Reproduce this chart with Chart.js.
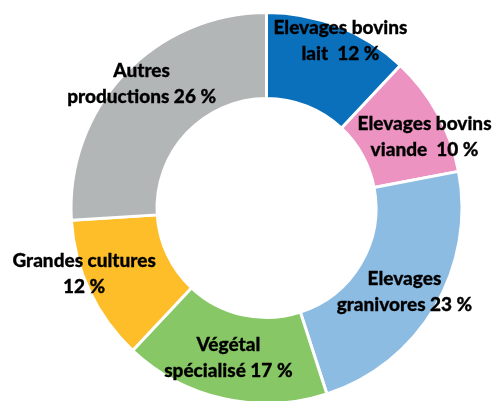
<!DOCTYPE html>
<html><head><meta charset="utf-8">
<script src="https://cdn.jsdelivr.net/npm/chart.js@4/dist/chart.umd.min.js"></script>
<style>html,body{margin:0;padding:0;background:#fff;overflow:hidden}#w{width:492px;height:405px}</style>
</head><body><div id="w"><canvas id="c"></canvas></div>
<script>
const categories = ["Elevages bovins lait","Elevages bovins viande","Elevages granivores","Végétal spécialisé","Grandes cultures","Autres productions"];
const values = [12, 10, 23, 17, 12, 26];
const labelLines = [["Elevages bovins","lait  12 %"],["Elevages bovins","viande  10 %"],["Elevages","granivores 23 %"],["Végétal","spécialisé 17 %"],["Grandes cultures","12 %"],["Autres","productions 26 %"]];
const colors = ["#0A70BC","#EC93C2","#8DBCE3","#88C765","#FDBE2A","#B3B6B7"];
// label placement: radial factor of outer radius, plus pixel nudge
const placement = [[0.93,7,2],[0.87,9,11],[0.82,0,2],[0.80,-4,-3],[0.98,-9,-16],[0.89,2,-5]];

const labelPlugin = {
  id:'lbl',
  afterDatasetsDraw(chart){
    const ctx = chart.ctx;
    const meta = chart.getDatasetMeta(0);
    ctx.save();
    ctx.font = '900 19px Lato';
    ctx.fillStyle = '#000';
    ctx.strokeStyle = '#000';
    ctx.lineWidth = 0.3;
    ctx.textAlign = 'center';
    ctx.textBaseline = 'middle';
    meta.data.forEach((arc,i)=>{
      const p = arc.getProps(['x','y','startAngle','endAngle','outerRadius'],true);
      const mid = (p.startAngle+p.endAngle)/2;
      const [f,dx,dy] = placement[i];
      const cx = p.x + Math.cos(mid)*p.outerRadius*f + dx;
      const cy = p.y + Math.sin(mid)*p.outerRadius*f + dy;
      const lines = labelLines[i];
      const lh = 26;
      lines.forEach((t,j)=>{
        const y = cy + (j-(lines.length-1)/2)*lh;
        ctx.fillText(t, cx, y);
        ctx.strokeText(t, cx, y);
      });
    });
    ctx.restore();
  }
};

new Chart(document.getElementById('c'),{
  type:'doughnut',
  data:{labels:categories,datasets:[{data:values,backgroundColor:colors,borderColor:'#fff',borderWidth:3,hoverOffset:0}]},
  options:{
    responsive:true,maintainAspectRatio:false,animation:false,
    cutout:'56%',
    layout:{padding:{left:41,right:0,top:11,bottom:0}},
    plugins:{legend:{display:false},tooltip:{enabled:false}}
  },
  plugins:[labelPlugin]
});
</script></body></html>
